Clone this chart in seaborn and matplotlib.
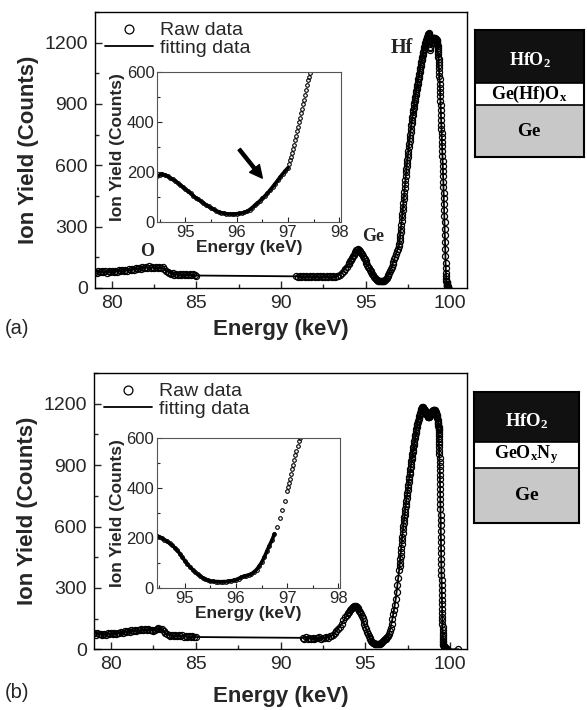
import numpy as np
import matplotlib
matplotlib.use('Agg')
import matplotlib.pyplot as plt
from matplotlib.ticker import MultipleLocator
import seaborn as sns

# ── Data ──────────────────────────────────────────────────
# raw spectra are stored as (start keV, step keV, counts) segments

# (a) HfO2 / Ge(Hf)Ox / Ge
a_counts_79_85 = [80, 74, 82, 77, 84, 78, 81, 75, 83, 79,
                  85, 78, 84, 80, 87, 82, 88, 83, 90, 85,
                  92, 87, 94, 89, 97, 92, 99, 95, 102, 97,
                  104, 99, 106, 100, 104, 98, 103, 97, 102, 99,
                  101, 93, 84, 77, 73, 68, 71, 66, 70, 64,
                  69, 65, 70, 64, 68, 63, 69, 64, 67, 63, 60]
a_counts_91_94 = [60, 55, 59, 53, 58, 54, 60, 53, 58, 52,
                  57, 53, 59, 54, 58, 52, 57, 53, 58, 54,
                  59, 55, 60, 56, 61, 60, 66, 72, 81, 92, 104, 117]
a_counts_94_97 = [124, 131, 139, 147, 155, 163, 171, 178, 184, 188,
                  190, 188, 183, 176, 170, 164, 156, 148, 140, 131,
                  123, 114, 105, 97, 90, 83, 76, 69, 62, 56,
                  50, 45, 40, 37, 35, 33, 32, 32, 32, 33,
                  34, 36, 38, 42, 49, 57, 66, 75, 84, 94,
                  104, 115, 127, 140, 153, 166, 180, 193, 205, 216]
a_counts_97_99 = [231, 246, 261, 276, 291, 309, 327, 345, 362, 380,
                  398, 416, 434, 452, 470, 489, 508, 527, 546, 565,
                  580, 595, 610, 625, 640, 656, 672, 688, 704, 720,
                  735, 750, 765, 780, 795, 808, 821, 834, 847, 860,
                  871, 882, 893, 904, 915, 924, 934, 943, 953, 962,
                  972, 981, 991, 1000, 1010, 1020, 1029, 1039, 1048, 1058,
                  1067, 1077, 1086, 1096, 1105, 1114, 1122, 1131, 1139, 1148,
                  1155, 1163, 1170, 1178, 1185, 1191, 1197, 1203, 1209, 1215,
                  1220, 1225, 1229, 1233, 1237, 1242, 1248, 1240, 1208, 1172,
                  1166, 1181, 1196, 1206, 1213, 1217, 1219, 1220, 1221, 1222,
                  1223, 1222, 1222, 1221, 1220, 1219, 1218, 1216, 1214, 1211]
a_counts_edge = [1208, 1204, 1200, 1195, 1189, 1182, 1174, 1165, 1155, 1144,
                 1132, 1119, 1105, 1090, 1074, 1057, 1039, 1020, 1000, 979,
                 958, 937, 915, 893, 870, 847, 823, 799, 780, 760,
                 738, 716, 693, 670, 646, 622, 597, 572, 546, 520,
                 494, 467, 440, 412, 383, 353, 322, 290, 257, 224,
                 190, 156, 124, 96, 74, 57, 44, 34, 27, 21,
                 17, 13, 10, 8, 6, 5, 4, 3, 2, 2]
a_segments = [(79.0, 0.1, a_counts_79_85), (90.9, 0.1, a_counts_91_94),
              (94.05, 0.05, a_counts_94_97), (97.02, 0.02, a_counts_97_99),
              (99.21, 0.01, a_counts_edge)]
a_fit_e = [79.0, 80.0, 81.0, 82.0, 82.6, 83.0, 83.3, 83.7, 84.5, 85.1, 88.0,
           90.9, 92.0, 93.0, 93.5, 94.0, 94.3, 94.55, 94.8, 95.1, 95.4, 95.7,
           95.95, 96.2, 96.5, 96.8, 97.0, 97.2, 97.4, 97.6, 97.8, 98.0, 98.2,
           98.4, 98.6, 98.75, 98.9, 99.1, 99.3, 99.4, 99.5, 99.6, 99.7, 99.75,
           99.8, 99.9, 100.0]
a_fit_c = [79, 84, 91, 101, 101, 98, 80, 68, 66, 61, 59,
           57, 56, 56, 66, 117, 163, 190, 164, 114, 69, 37,
           32, 42, 94, 166, 216, 380, 565, 720, 860, 962, 1058,
           1148, 1215, 1240, 1210, 1220, 1144, 979, 760, 520, 224, 74,
           21, 2, 0]

# (b) HfO2 / GeOxNy / Ge
b_counts_79_85 = [78, 72, 79, 73, 77, 71, 76, 72, 78, 73,
                  79, 74, 80, 76, 82, 78, 85, 80, 87, 83,
                  90, 85, 92, 88, 95, 90, 96, 92, 97, 93,
                  98, 93, 97, 92, 96, 91, 95, 97, 103, 101,
                  98, 88, 79, 73, 70, 66, 71, 65, 69, 64,
                  68, 63, 68, 62, 67, 62, 66, 61, 65, 62, 60]
b_counts_91_94 = [57, 52, 58, 51, 57, 52, 56, 51, 57, 53,
                  58, 52, 57, 54, 59, 57, 63, 64, 71, 79,
                  88, 98, 110, 126, 142, 158, 170, 177]
b_counts_94_97 = [183, 190, 196, 201, 205, 208, 210, 211, 210, 206,
                  201, 195, 188, 180, 172, 163, 152, 139, 125, 110,
                  97, 86, 75, 65, 56, 49, 42, 36, 32, 29,
                  28, 27, 27, 26, 27, 27, 28, 30, 32, 35,
                  39, 44, 48, 51, 54, 58, 65, 75, 88, 104,
                  124, 148, 171, 192, 218, 247, 280, 315, 350, 388]
b_counts_97_99 = [405, 422, 439, 457, 476, 494, 513, 532, 551, 570,
                  588, 603, 617, 631, 645, 658, 672, 685, 699, 712,
                  725, 738, 752, 765, 778, 791, 804, 817, 830, 843,
                  856, 868, 881, 893, 906, 918, 930, 942, 953, 965,
                  976, 987, 998, 1009, 1020, 1030, 1040, 1049, 1059, 1068,
                  1077, 1086, 1094, 1102, 1110, 1117, 1124, 1131, 1138, 1145,
                  1151, 1157, 1163, 1168, 1172, 1176, 1181, 1186, 1184, 1180,
                  1177, 1174, 1176, 1171, 1167, 1164, 1162, 1158, 1155, 1152,
                  1149, 1146, 1143, 1140, 1137, 1135, 1134, 1136, 1139, 1142,
                  1145, 1148, 1151, 1154, 1157, 1160, 1162, 1164, 1165, 1166,
                  1167, 1167, 1168, 1168, 1167, 1166, 1164, 1161, 1157, 1152,
                  1146, 1139, 1131, 1122, 1112]
b_counts_edge = [1106, 1100, 1093, 1086, 1078, 1070, 1061, 1051, 1040, 1028,
                 1015, 1001, 986, 970, 953, 935, 916, 896, 875, 853,
                 831, 808, 784, 760, 735, 710, 684, 658, 632, 605,
                 578, 551, 524, 497, 470, 443, 416, 389, 363, 337,
                 312, 288, 264, 241, 219, 198, 178, 159, 141, 124,
                 108, 94, 81, 69, 58, 49, 41, 34, 28, 23]
b_counts_tail = [18, 14, 11, 9, 7, 5, 4, 3, 2, 2]
b_segments = [(79.0, 0.1, b_counts_79_85), (91.3, 0.1, b_counts_91_94),
              (94.05, 0.05, b_counts_94_97), (97.02, 0.02, b_counts_97_99),
              (99.305, 0.005, b_counts_edge), (99.62, 0.02, b_counts_tail),
              (100.45, 0.05, [2])]
b_fit_e = [79.0, 80.0, 81.0, 82.0, 82.8, 83.0, 83.3, 83.7, 84.5, 85.0, 88.0,
           91.3, 92.5, 93.0, 93.5, 94.0, 94.4, 94.7, 95.0, 95.3, 95.6, 95.9,
           96.2, 96.4, 96.6, 96.8, 97.0, 97.2, 97.4, 97.6, 97.8, 98.0, 98.2,
           98.36, 98.74, 99.1, 99.3, 99.4, 99.45, 99.5, 99.55, 99.6, 99.7,
           99.8, 100.0, 100.5]
b_fit_c = [76, 78, 89, 95, 101, 98, 73, 67, 64, 60, 58,
           56, 55, 64, 110, 177, 211, 180, 110, 49, 27, 30,
           51, 75, 148, 247, 388, 570, 712, 843, 965, 1068, 1145,
           1186, 1134, 1167, 1112, 853, 605, 337, 124, 23, 9,
           2, 0, 0]

main_xticks = [80, 85, 90, 95, 100]
main_yticks = [0, 300, 600, 900, 1200]
inset_xticks = [95, 96, 97, 98]
inset_yticks = [0, 200, 400, 600]

a_layers = ['$\\mathbf{HfO_2}$', '$\\mathbf{Ge(Hf)O_x}$', '$\\mathbf{Ge}$']
b_layers = ['$\\mathbf{HfO_2}$', '$\\mathbf{GeO_xN_y}$', '$\\mathbf{Ge}$']


def build(segments):
    e, c = [], []
    for start, step, counts in segments:
        e += [round(start + step * i, 4) for i in range(len(counts))]
        c += list(counts)
    return np.array(e), np.array(c)


# ── Style ─────────────────────────────────────────────────
sns.set_style('ticks')
plt.rcParams['font.family'] = ['Liberation Sans', 'DejaVu Sans']
plt.rcParams['mathtext.fontset'] = 'custom'
plt.rcParams['mathtext.bf'] = 'Liberation Serif:bold'
plt.rcParams['mathtext.rm'] = 'Liberation Serif'
plt.rcParams['axes.linewidth'] = 1.0

W, H = 587, 710
fig = plt.figure(figsize=(W / 100, H / 100), dpi=100)


def rect(x0, y0, x1, y1):
    # pixel box (top-left origin) -> figure fraction
    return [x0 / W, 1 - y1 / H, (x1 - x0) / W, (y1 - y0) / H]


def draw_panel(main_px, inset_px, box_px, segments, fit_e, fit_c,
               layers, splits, layer_sizes, tag, tag_y, xlabelpad,
               thick_until):
    e, c = build(segments)

    ax = fig.add_axes(rect(*main_px))
    sns.lineplot(x=e, y=c, ax=ax, marker='o', linestyle='none', ms=4.4,
                 mfc='none', mec='black', mew=0.9, color='black',
                 estimator=None, sort=False, label='Raw data')
    sns.lineplot(x=fit_e, y=fit_c, ax=ax, color='black', lw=1.3,
                 estimator=None, sort=False, label='fitting data')
    ax.set_xlim(79, 101)
    ax.set_ylim(0, 1350)
    ax.set_xticks(main_xticks)
    ax.set_yticks(main_yticks)
    ax.xaxis.set_minor_locator(MultipleLocator(2.5))
    ax.yaxis.set_minor_locator(MultipleLocator(150))
    ax.tick_params(which='both', direction='in', labelsize=14, pad=5,
                   width=1, top=False, right=False)
    ax.tick_params(which='major', length=5)
    ax.tick_params(which='minor', length=3)
    ax.set_xlabel('Energy (keV)', fontsize=16, fontweight='bold',
                  labelpad=xlabelpad)
    ax.set_ylabel('Ion Yield (Counts)', fontsize=16, fontweight='bold',
                  labelpad=4)
    for s in ax.spines.values():
        s.set_visible(True)
        s.set_color('black')
    ax.legend(loc='upper left', frameon=False, fontsize=14,
              markerscale=1.45, handlelength=2.5, handletextpad=0.35,
              borderpad=0.2, borderaxespad=0.3, labelspacing=0.0,
              numpoints=1)

    ins = fig.add_axes(rect(*inset_px))
    ins.set_facecolor('white')
    # dense low-energy part reads as a thick trace in the inset
    low = e <= thick_until
    sns.lineplot(x=e[low], y=c[low], ax=ins, color='black', lw=2.6,
                 estimator=None, sort=False, legend=False)
    sns.lineplot(x=e, y=c, ax=ins, marker='o', linestyle='none', ms=2.6,
                 mfc='none', mec='black', mew=0.8, color='black',
                 estimator=None, sort=False, legend=False)
    ins.set_xlim(94.45, 98.03)
    ins.set_ylim(0, 600)
    ins.set_xticks(inset_xticks)
    ins.set_yticks(inset_yticks)
    ins.xaxis.set_minor_locator(MultipleLocator(0.5))
    ins.yaxis.set_minor_locator(MultipleLocator(100))
    ins.tick_params(which='both', direction='in', labelsize=12, pad=2,
                    width=0.8, top=False, right=False)
    ins.tick_params(which='major', length=3.5)
    ins.tick_params(which='minor', length=2)
    ins.set_xlabel('Energy (keV)', fontsize=12.5, fontweight='bold',
                   labelpad=0)
    ins.set_ylabel('Ion Yield (Counts)', fontsize=12.5, fontweight='bold',
                   labelpad=1)
    for s in ins.spines.values():
        s.set_visible(True)
        s.set_color('#555555')
        s.set_linewidth(0.8)

    box = fig.add_axes(rect(*box_px))
    box.set_xlim(0, 1)
    box.set_ylim(0, 1)
    lo, hi = splits
    box.axhspan(0, lo, color='#c8c8c8', lw=0)
    box.axhspan(lo, hi, color='white', lw=0)
    box.axhspan(hi, 1, color='#111111', lw=0)
    box.axhline(lo, color='black', lw=1.2)
    box.axhline(hi, color='black', lw=1.2)
    box.text(0.5, (hi + 1) / 2 - 0.03, layers[0], color='white',
             ha='center', va='center', fontsize=layer_sizes[0])
    box.text(0.5, (lo + hi) / 2, layers[1], color='black',
             ha='center', va='center', fontsize=layer_sizes[1])
    box.text(0.5, lo / 2, layers[2], color='black',
             ha='center', va='center', fontsize=layer_sizes[2])
    box.set_xticks([])
    box.set_yticks([])
    for s in box.spines.values():
        s.set_visible(True)
        s.set_color('black')
        s.set_linewidth(1.5)

    fig.text(5 / W, 1 - tag_y / H, tag, fontsize=14.5, va='center')
    return ax, ins


# ── Panel (a) ─────────────────────────────────────────────
ax_a, ins_a = draw_panel((95, 12, 467, 288), (157.3, 71.7, 340.7, 222),
                         (475, 30, 584, 157), a_segments, a_fit_e, a_fit_c,
                         a_layers, (0.409, 0.583), (13, 13, 13.5),
                         '(a)', 328, 5, 97.0)
serif = ['Liberation Serif', 'DejaVu Serif']
ax_a.text(82.08, 178, 'O', family=serif, fontweight='bold', fontsize=13,
          ha='center', va='center')
ax_a.text(95.44, 251, 'Ge', family=serif, fontweight='bold', fontsize=13,
          ha='center', va='center')
ax_a.text(97.17, 1175, 'Hf', family=serif, fontweight='bold', fontsize=14.5,
          ha='center', va='center')
ins_a.annotate('', xy=(96.5, 175), xytext=(96.05, 290),
               arrowprops=dict(facecolor='black', edgecolor='black',
                               width=2.2, headwidth=9, headlength=9,
                               shrink=0))

# ── Panel (b) ─────────────────────────────────────────────
draw_panel((94, 373, 467, 649.3), (156.7, 438.3, 340, 588.3),
           (474, 392, 579, 523), b_segments, b_fit_e, b_fit_c,
           b_layers, (0.42, 0.618), (13.5, 13, 14),
           '(b)', 692, 9, 96.75)

plt.savefig('out.png', dpi=100)
